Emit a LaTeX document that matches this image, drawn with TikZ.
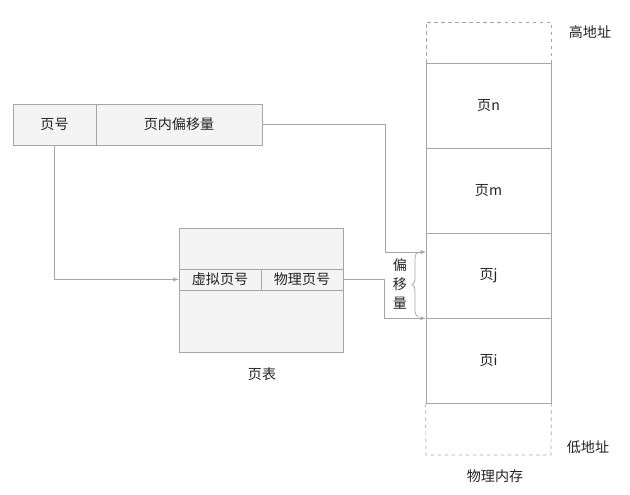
\documentclass[tikz,border=0pt]{standalone}
\usepackage{fontspec}
\setmainfont{Noto Sans CJK SC}
\usepackage{tikz}
\usetikzlibrary{arrows}
\usetikzlibrary{arrows.meta}
\usetikzlibrary{decorations.pathreplacing}
\definecolor{edgegray}{HTML}{A6A6A6}
\definecolor{cellgray}{HTML}{F4F4F4}
\definecolor{txtgray}{HTML}{222222}

\begin{document}
\begin{tikzpicture}[x=0.3mm,y=-0.3mm,font=\fontsize{12}{15}\selectfont,text=txtgray]
\tikzstyle{cell}=[draw=edgegray,fill=cellgray,inner sep=0pt,line width=0.6pt]
\tikzstyle{page}=[draw=edgegray,fill=white,inner sep=0pt,line width=0.6pt,minimum width=125*0.3mm,minimum height=85*0.3mm]
\tikzstyle{link}=[draw=edgegray,line width=0.6pt,arrows={-latex}]
\useasboundingbox (0,0) rectangle (630,494);
% logical address
\node[cell,minimum width=83*0.3mm,minimum height=41*0.3mm] (pno) at (54.5,124.5) {页号};
\node[cell,minimum width=166*0.3mm,minimum height=41*0.3mm] (off) at (179,124.5) {页内偏移量};
% page table
\node[cell,minimum width=164*0.3mm,minimum height=124*0.3mm] (pt) at (261,290) {};
\node[cell,minimum width=82*0.3mm,minimum height=21*0.3mm] (vpn) at (220,279.5) {虚拟页号};
\node[cell,minimum width=82*0.3mm,minimum height=21*0.3mm] (ppn) at (302,279.5) {物理页号};
\node (ptlabel) at (262,374) {页表};
% physical memory
\node[page,draw=none,fill=none] (hi) at (488.5,42.5) {};
\draw[edgegray,dashed,line width=0.6pt] (426,63) -- (426,22) -- (551,22) -- (551,63);
\node[page] (n) at (488.5,105.5) {页n};
\node[page] (m) at (488.5,190.5) {页m};
\node[page] (j) at (488.5,275.5) {页j};
\node[page] (i) at (488.5,360.5) {页i};
\draw[edgegray,dashed,line width=0.6pt] (i.south west) -- (426,455) -- (551,455) -- (i.south east);
\node (high) at (590,32) {高地址};
\node (low) at (588,447) {低地址};
\node (mem) at (495,476) {物理内存};
% connectors
\coordinate (brtop) at (426,252);
\path[link] (pno.south) |- (vpn.west);
\path[link] (off.east) -| ([xshift=-41*0.3mm]brtop) -- (brtop);
\path[link] (ppn.east) -| ([xshift=-41*0.3mm]j.south west) -- (j.south west);
\draw[edgegray,line width=0.6pt,decorate,decoration={brace,amplitude=5pt}] (418,317) -- (418,252);
\node[align=center,inner sep=0pt,font=\fontsize{12}{16}\selectfont] (shift) at (400,284) {偏\\移\\量};
\end{tikzpicture}
\end{document}
